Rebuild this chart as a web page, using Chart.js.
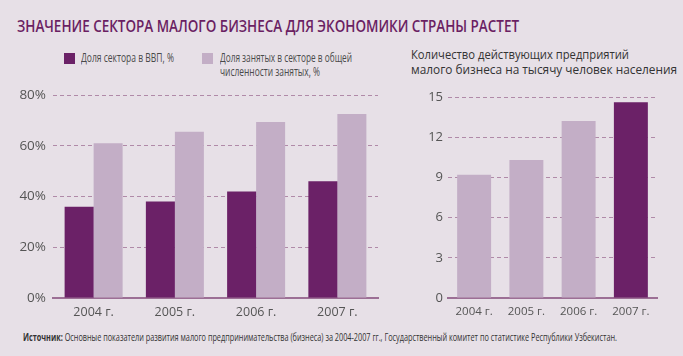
<!DOCTYPE html>
<html lang="ru">
<head>
<meta charset="utf-8">
<script src="https://cdn.jsdelivr.net/npm/chart.js@4.4.1/dist/chart.umd.min.js"></script>
<style>
  html, body { margin: 0; padding: 0; }
  body { width: 683px; height: 356px; background: #e7e0e7; position: relative; overflow: hidden; font-family: "Open Sans", "Noto Sans", sans-serif; }
  .line { display: block; white-space: nowrap; transform-origin: 0 50%; width: max-content; }
  #title { position: absolute; left: 17px; top: 16px; font-weight: 600; font-size: 16px; line-height: 20px; color: #6b1f63; }
  .leg { position: absolute; font-family: "Open Sans", sans-serif; font-size: 12px; line-height: 13.5px; color: #4a4a4a; }
  .sw { position: absolute; width: 11px; height: 11px; }
  #rtitle { position: absolute; left: 411px; top: 47px; font-size: 13px; line-height: 15px; color: #333; }
  #source { position: absolute; left: 23px; top: 331px; font-size: 10.5px; line-height: 13px; color: #333; }
  #c1 { position: absolute; left: 0; top: 85px; }
  #c2 { position: absolute; left: 395px; top: 85px; }
</style>
</head>
<body>
<div id="title"></div>
<div id="legend"></div>
<div id="rtitle"></div>
<canvas id="c1" width="390" height="245"></canvas>
<canvas id="c2" width="288" height="245"></canvas>
<div id="source"></div>
<script>
// ---- data ----
const titleText = 'ЗНАЧЕНИЕ СЕКТОРА МАЛОГО БИЗНЕСА ДЛЯ ЭКОНОМИКИ СТРАНЫ РАСТЕТ';
const categories = ['2004 г.', '2005 г.', '2006 г.', '2007 г.'];
const seriesLabels = [
  ['Доля сектора в ВВП, %'],
  ['Доля занятых в секторе в общей', 'численности занятых, %']
];
const gdpShare = [36, 38, 42, 46];
const employmentShare = [61, 65.5, 69.4, 72.5];
const leftTicks = [0, 20, 40, 60, 80];
const rightTitle = ['Количество действующих предприятий', 'малого бизнеса на тысячу человек населения'];
const enterprisesPer1000 = [9.2, 10.3, 13.2, 14.6];
const rightTicks = [0, 3, 6, 9, 12, 15];
const sourceBold = 'Источник:';
const sourceText = ' Основные показатели развития малого предпринимательства (бизнеса) за 2004-2007 гг., Государственный комитет по статистике Республики Узбекистан.';

// ---- styles ----
const DARK = '#6b2167';
const LIGHT = '#c3aec6';
const GRID = '#b08aa8';
const AXIS = '#9c6f95';
const TICK = '#555555';

// text line helper: squeeze a line horizontally to the reference text width
function addLine(parent, html, width) {
  const s = document.createElement('span');
  s.className = 'line';
  s.innerHTML = html;
  parent.appendChild(s);
  const w = s.getBoundingClientRect().width;
  if (width && w > 0) s.style.transform = 'scaleX(' + (width / w) + ')';
  return s;
}

addLine(document.getElementById('title'), titleText, 502);
const rt = document.getElementById('rtitle');
addLine(rt, rightTitle[0], 218);
addLine(rt, rightTitle[1], 266);
addLine(document.getElementById('source'), '<b>' + sourceBold + '</b>' + sourceText, 594);

const legend = document.getElementById('legend');
const legPos = [{sq: 64, tx: 81}, {sq: 202, tx: 220}];
const legCol = [DARK, LIGHT];
const legWidths = [[93], [132, 100]];
seriesLabels.forEach((lines, i) => {
  const sw = document.createElement('div');
  sw.className = 'sw';
  sw.style.left = legPos[i].sq + 'px';
  sw.style.top = '53px';
  sw.style.background = legCol[i];
  legend.appendChild(sw);
  const t = document.createElement('div');
  t.className = 'leg';
  t.style.left = legPos[i].tx + 'px';
  t.style.top = '51px';
  legend.appendChild(t);
  lines.forEach((ln, j) => addLine(t, ln, legWidths[i][j]));
});

Chart.defaults.font.family = '"Open Sans", "Noto Sans", sans-serif';
Chart.defaults.color = TICK;
Chart.defaults.animation = false;

function gridColor(ctx) { return ctx.tick && ctx.tick.value === 0 ? 'rgba(0,0,0,0)' : GRID; }

function makeScales(ticksArr, fmt, ySize, xSize, yPad) {
  return {
    x: {
      grid: { display: false, drawTicks: false },
      border: { display: true, color: AXIS, width: 2 },
      ticks: { padding: 7, font: { size: xSize }, color: TICK, maxRotation: 0 },
      afterFit: s => { s.height = 32; }
    },
    y: {
      min: ticksArr[0], max: ticksArr[ticksArr.length - 1],
      afterBuildTicks: s => { s.ticks = ticksArr.map(v => ({ value: v })); },
      grid: { color: gridColor, drawTicks: false, lineWidth: 1 },
      border: { display: false, dash: [4, 3] },
      ticks: { padding: yPad, font: { size: ySize, lineHeight: 0.4 }, color: TICK, callback: fmt },
      afterFit: s => { s.width = 53; }
    }
  };
}

new Chart(document.getElementById('c1'), {
  type: 'bar',
  data: {
    labels: categories,
    datasets: [
      { label: seriesLabels[0].join(' '), data: gdpShare, backgroundColor: DARK },
      { label: seriesLabels[1].join(' '), data: employmentShare, backgroundColor: LIGHT }
    ]
  },
  options: {
    responsive: false,
    devicePixelRatio: 1,
    layout: { padding: { top: 10, right: 12, bottom: 0, left: 0 } },
    categoryPercentage: 0.714,
    barPercentage: 1.0,
    plugins: { legend: { display: false }, tooltip: { enabled: false } },
    scales: makeScales(leftTicks, v => v + '%', 13.5, 12.5, 7)
  }
});

new Chart(document.getElementById('c2'), {
  type: 'bar',
  data: {
    labels: categories,
    datasets: [
      { label: rightTitle.join(' '), data: enterprisesPer1000,
        backgroundColor: enterprisesPer1000.map((v, i) => i === enterprisesPer1000.length - 1 ? DARK : LIGHT) }
    ]
  },
  options: {
    responsive: false,
    devicePixelRatio: 1,
    layout: { padding: { top: 12, right: 26, bottom: 0, left: 0 } },
    categoryPercentage: 0.65,
    barPercentage: 1.0,
    plugins: { legend: { display: false }, tooltip: { enabled: false } },
    scales: makeScales(rightTicks, v => v, 13, 11.5, 5)
  }
});
</script>
</body>
</html>
